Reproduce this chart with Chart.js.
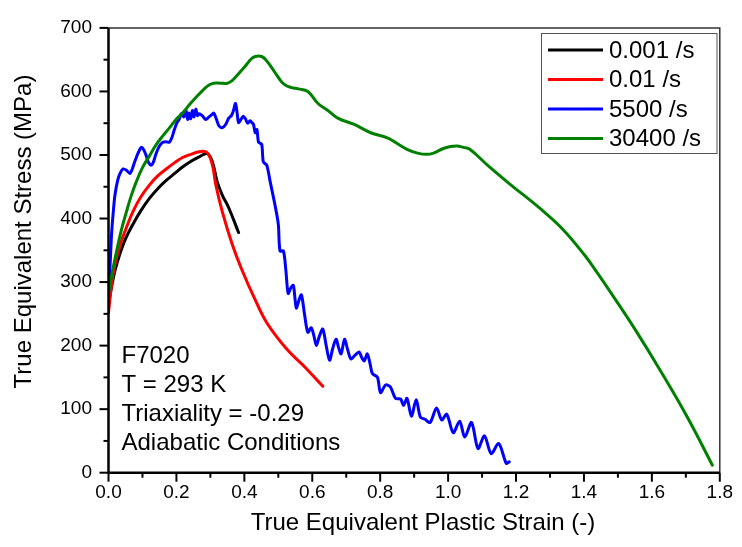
<!DOCTYPE html>
<html><head><meta charset="utf-8">
<script src="https://cdn.jsdelivr.net/npm/chart.js@4"></script>
<style>html,body{margin:0;padding:0;background:#fff;}canvas{display:block;}</style>
</head><body>
<canvas id="c" width="742" height="547"></canvas>
<script>
const seriesLabels = ['0.001 /s', '0.01 /s', '5500 /s', '30400 /s'];
const seriesColors = ['#000000', '#ff0000', '#0000ff', '#008000'];

const strainA = [0, 0.01, 0.02, 0.034, 0.05, 0.072, 0.095, 0.121, 0.145, 0.17, 0.195, 0.218, 0.243, 0.267, 0.291, 0.306, 0.32, 0.335, 0.354, 0.383];
const stressA = [265, 295, 320, 345, 368, 391, 412, 432, 447, 460, 471, 481, 490, 497, 502, 489, 458, 437, 417, 378];

const strainB = [0, 0.01, 0.02, 0.034, 0.05, 0.072, 0.095, 0.121, 0.145, 0.17, 0.195, 0.218, 0.243, 0.267, 0.29, 0.306, 0.316, 0.335, 0.364, 0.393, 0.432, 0.466, 0.524, 0.573, 0.631];
const stressB = [252, 300, 330, 358, 382, 411, 434, 453, 467, 478, 488, 496, 501, 505, 504, 484, 453, 411, 360, 319, 272, 236, 195, 169, 136];

const strainC = [0, 0.005, 0.009, 0.014, 0.019, 0.027, 0.034, 0.043, 0.053, 0.063, 0.07, 0.077, 0.087, 0.097, 0.104, 0.111, 0.118, 0.126, 0.133, 0.14, 0.15, 0.16, 0.17, 0.179, 0.187, 0.194, 0.201, 0.208, 0.215, 0.222, 0.228, 0.233, 0.237, 0.242, 0.247, 0.252, 0.257, 0.262, 0.266, 0.276, 0.286, 0.296, 0.303, 0.31, 0.318, 0.325, 0.335, 0.345, 0.354, 0.362, 0.368, 0.374, 0.379, 0.383, 0.39, 0.397, 0.403, 0.41, 0.417, 0.422, 0.427, 0.432, 0.437, 0.442, 0.451, 0.456, 0.466, 0.476, 0.49, 0.5, 0.505, 0.515, 0.522, 0.529, 0.536, 0.544, 0.549, 0.553, 0.56, 0.568, 0.577, 0.587, 0.597, 0.605, 0.612, 0.621, 0.631, 0.641, 0.651, 0.66, 0.67, 0.677, 0.685, 0.695, 0.704, 0.714, 0.726, 0.738, 0.745, 0.753, 0.762, 0.77, 0.777, 0.792, 0.801, 0.816, 0.83, 0.845, 0.86, 0.869, 0.879, 0.892, 0.906, 0.918, 0.932, 0.947, 0.966, 0.981, 0.996, 1.015, 1.034, 1.049, 1.069, 1.088, 1.107, 1.127, 1.149, 1.171, 1.18];
const stressC = [280, 330, 375, 410, 437, 460, 471, 478, 476, 471, 478, 489, 503, 512, 508, 499, 488, 484, 490, 502, 514, 520, 521, 520, 528, 540, 550, 556, 565, 560, 571, 556, 566, 557, 570, 560, 572, 562, 565, 562, 556, 560, 563, 566, 556, 546, 543, 548, 558, 562, 570, 581, 565, 551, 556, 561, 557, 550, 554, 551, 548, 535, 540, 520, 517, 489, 484, 458, 422, 391, 349, 349, 320, 282, 290, 295, 275, 259, 270, 280, 250, 221, 228, 215, 200, 215, 226, 200, 177, 195, 210, 198, 187, 210, 194, 179, 185, 190, 182, 176, 187, 172, 156, 150, 126, 138, 135, 117, 116, 106, 117, 89, 115, 88, 84, 79, 102, 83, 92, 63, 81, 56, 79, 38, 58, 30, 46, 15, 17];

const strainD = [0, 0.012, 0.024, 0.038, 0.053, 0.067, 0.082, 0.1, 0.121, 0.14, 0.16, 0.18, 0.199, 0.218, 0.238, 0.26, 0.28, 0.296, 0.31, 0.33, 0.35, 0.364, 0.383, 0.403, 0.42, 0.432, 0.451, 0.466, 0.48, 0.495, 0.51, 0.524, 0.539, 0.559, 0.587, 0.617, 0.646, 0.675, 0.724, 0.772, 0.821, 0.85, 0.879, 0.91, 0.937, 0.957, 0.99, 1.025, 1.045, 1.064, 1.12, 1.18, 1.268, 1.336, 1.404, 1.44, 1.482, 1.55, 1.627, 1.705, 1.778];
const stressD = [282, 318, 349, 382, 411, 436, 458, 480, 499, 516, 530, 543, 556, 566, 579, 592, 603, 610, 613, 613, 613, 617, 628, 640, 651, 655, 655, 648, 638, 626, 615, 609, 606, 604, 600, 581, 570, 558, 548, 535, 527, 518, 509, 503, 501, 503, 511, 514, 512, 509, 482, 455, 417, 384, 341, 314, 281, 226, 159, 87, 12];

const xTickValues = [0, 0.2, 0.4, 0.6, 0.8, 1.0, 1.2, 1.4, 1.6, 1.8];
const yTickValues = [0, 100, 200, 300, 400, 500, 600, 700];
const annotationLines = ['F7020', 'T = 293 K', 'Triaxiality = -0.29', 'Adiabatic Conditions'];
const xTitle = 'True Equivalent Plastic Strain (-)';
const yTitle = 'True Equivalent Stress (MPa)';

const FONT = '"Liberation Sans", Arial, Helvetica, sans-serif';
const zip = (xs, ys) => xs.map((v, i) => ({x: v, y: ys[i]}));
const seriesData = [zip(strainA, stressA), zip(strainB, stressB), zip(strainC, stressC), zip(strainD, stressD)];
const tensions = [0.4, 0.4, 0.3, 0.4];

const decor = {
  id: 'decor',
  afterDatasetsDraw(chart) {
    const {ctx, chartArea: a, scales: {x, y}} = chart;
    ctx.save();
    ctx.lineCap = 'butt';
    ctx.strokeStyle = '#333'; ctx.lineWidth = 1.5;
    ctx.beginPath(); ctx.moveTo(a.left, a.top); ctx.lineTo(a.right, a.top); ctx.lineTo(a.right, a.bottom); ctx.stroke();
    ctx.strokeStyle = '#000'; ctx.lineWidth = 2.5;
    ctx.beginPath(); ctx.moveTo(a.left, a.top); ctx.lineTo(a.left, a.bottom); ctx.lineTo(a.right, a.bottom); ctx.stroke();
    ctx.lineWidth = 2;
    for (let i = 0; i < xTickValues.length; i++) {
      const px = x.getPixelForValue(xTickValues[i]);
      ctx.beginPath(); ctx.moveTo(px, a.bottom); ctx.lineTo(px, a.bottom + 9); ctx.stroke();
      if (i < xTickValues.length - 1) {
        const pm = x.getPixelForValue((xTickValues[i] + xTickValues[i + 1]) / 2);
        ctx.beginPath(); ctx.moveTo(pm, a.bottom); ctx.lineTo(pm, a.bottom + 5); ctx.stroke();
      }
    }
    for (let i = 0; i < yTickValues.length; i++) {
      const py = y.getPixelForValue(yTickValues[i]);
      ctx.beginPath(); ctx.moveTo(a.left - 9, py); ctx.lineTo(a.left, py); ctx.stroke();
      if (i < yTickValues.length - 1) {
        const pm = y.getPixelForValue((yTickValues[i] + yTickValues[i + 1]) / 2);
        ctx.beginPath(); ctx.moveTo(a.left - 5, pm); ctx.lineTo(a.left, pm); ctx.stroke();
      }
    }
    ctx.fillStyle = '#fff';
    ctx.fillRect(541.5, 33, 175.5, 120);
    ctx.strokeStyle = '#555'; ctx.lineWidth = 1;
    ctx.strokeRect(541.5, 33.5, 175.5, 120);
    ctx.font = '24px ' + FONT; ctx.textBaseline = 'middle'; ctx.textAlign = 'left';
    chart.data.datasets.forEach((ds, i) => {
      const ry = 50 + i * 29.5;
      ctx.strokeStyle = ds.borderColor; ctx.lineWidth = 3;
      ctx.beginPath(); ctx.moveTo(548, ry); ctx.lineTo(603, ry); ctx.stroke();
      ctx.fillStyle = '#000';
      ctx.fillText(ds.label, 609, ry + 1);
    });
    ctx.fillStyle = '#000';
    annotationLines.forEach((t, i) => ctx.fillText(t, 121.5, 356 + i * 29.2));
    ctx.textAlign = 'center';
    ctx.fillText(xTitle, 423, 523);
    ctx.translate(24, 231.5); ctx.rotate(-Math.PI / 2);
    ctx.fillText(yTitle, 0, 0);
    ctx.restore();
  }
};

new Chart(document.getElementById('c'), {
  type: 'scatter',
  data: {
    datasets: seriesData.map((d, i) => ({
      label: seriesLabels[i], data: d, showLine: true,
      borderColor: seriesColors[i], backgroundColor: seriesColors[i],
      borderWidth: 3, pointRadius: 0, tension: tensions[i], order: 4 - i,
      borderJoinStyle: 'round', borderCapStyle: 'round'
    }))
  },
  options: {
    responsive: false, animation: false, devicePixelRatio: 1,
    layout: {padding: {left: 0, top: 20, right: 16, bottom: 0}},
    plugins: {legend: {display: false}, tooltip: {enabled: false}},
    scales: {
      x: {
        type: 'linear', min: 0, max: 1.8,
        afterBuildTicks: s => { s.ticks = xTickValues.map(v => ({value: v})); },
        afterFit: s => { s.height = 74.3; },
        grid: {display: false, drawTicks: false}, border: {display: false},
        ticks: {padding: 9, color: '#000', font: {size: 19, family: FONT}, maxRotation: 0, autoSkip: false, callback: v => Number(v).toFixed(1)}
      },
      y: {
        type: 'linear', min: 0, max: 700,
        afterBuildTicks: s => { s.ticks = yTickValues.map(v => ({value: v})); },
        afterFit: s => { s.width = 108.5; },
        grid: {display: false, drawTicks: false}, border: {display: false},
        ticks: {padding: 16.5, color: '#000', font: {size: 19, family: FONT}, autoSkip: false, callback: v => String(v)}
      }
    }
  },
  plugins: [decor]
});
</script>
</body></html>
